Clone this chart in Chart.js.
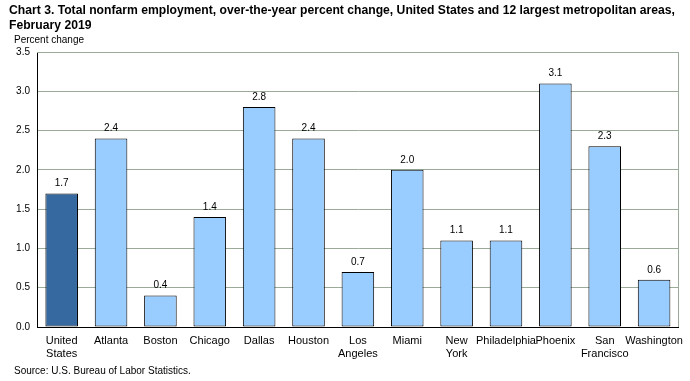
<!DOCTYPE html>
<html><head><meta charset="utf-8">
<script src="https://cdn.jsdelivr.net/npm/chart.js@4/dist/chart.umd.min.js"></script>
<style>html,body{margin:0;padding:0;background:#fff}#wrap{width:690px;height:381px;position:relative}</style>
</head><body><div id="wrap"><canvas id="c" width="690" height="381"></canvas></div>
<script>
const categories = [["United","States"],"Atlanta","Boston","Chicago","Dallas","Houston",["Los","Angeles"],"Miami",["New","York"],"Philadelphia","Phoenix",["San","Francisco"],"Washington"];
const values = [1.7,2.4,0.4,1.4,2.8,2.4,0.7,2.0,1.1,1.1,3.1,2.3,0.6];
const titleLines = ["Chart 3. Total nonfarm employment, over-the-year percent change, United States and 12 largest metropolitan areas,","February 2019"];
const yAxisLabel = "Percent change";
const sourceText = "Source: U.S. Bureau of Labor Statistics.";

const FONT = "'Liberation Sans', Arial, sans-serif";
const GRID = "#9aab9a";

const textPlugin = {
  id: 'texts',
  afterDraw(chart) {
    const ctx = chart.ctx, a = chart.chartArea;
    ctx.save();
    ctx.fillStyle = '#000';
    ctx.textBaseline = 'alphabetic';
    ctx.textAlign = 'left';
    ctx.font = 'bold 13px ' + FONT;
    const w1 = ctx.measureText(titleLines[0]).width;
    const sx = Math.min(1, 666 / w1);
    titleLines.forEach((t, i) => {
      ctx.save();
      ctx.translate(9, 14 + i * 15);
      ctx.scale(sx, 1);
      ctx.fillText(t, 0, 0);
      ctx.restore();
    });
    ctx.font = '10px ' + FONT;
    ctx.fillText(yAxisLabel, 14, 43);
    ctx.fillText(sourceText, 14, 374);
    ctx.strokeStyle = GRID; ctx.lineWidth = 1;
    ctx.beginPath();
    ctx.moveTo(a.left, Math.round(a.top) + 0.5);
    ctx.lineTo(Math.round(a.right) - 0.5, Math.round(a.top) + 0.5);
    ctx.lineTo(Math.round(a.right) - 0.5, a.bottom);
    ctx.stroke();
    const meta = chart.getDatasetMeta(0);
    ctx.font = '10px ' + FONT;
    ctx.textAlign = 'center';
    ctx.textBaseline = 'bottom';
    meta.data.forEach((bar, i) => {
      ctx.fillText(values[i].toFixed(1), bar.x, bar.y - 5);
    });
    ctx.restore();
  }
};

new Chart(document.getElementById('c'), {
  type: 'bar',
  data: {
    labels: categories,
    datasets: [{
      data: values,
      backgroundColor: values.map((v, i) => i === 0 ? '#3669a0' : '#99ccff'),
      borderColor: '#000',
      borderWidth: 1,
      borderSkipped: false,
      barPercentage: 0.66,
      categoryPercentage: 1.0
    }]
  },
  options: {
    responsive: false,
    animation: false,
    devicePixelRatio: 1,
    layout: { padding: { top: 52, left: 0, right: 2, bottom: 0 } },
    plugins: { legend: { display: false }, title: { display: false }, tooltip: { enabled: false } },
    scales: {
      x: {
        grid: { display: false, drawTicks: false },
        border: { color: '#000', width: 1 },
        ticks: { color: '#000', font: { family: FONT, size: 11, lineHeight: 1.2 }, maxRotation: 0, autoSkip: false, padding: 7 },
        afterFit(s) { s.height = 54; }
      },
      y: {
        min: 0, max: 3.5,
        grid: { color: GRID, drawTicks: false },
        border: { color: '#000', width: 1 },
        ticks: { stepSize: 0.5, color: '#000', font: { family: FONT, size: 10 }, padding: 7, callback: v => Number(v).toFixed(1) },
        afterFit(s) { s.width = 37; }
      }
    }
  },
  plugins: [textPlugin]
});
</script>
</body></html>
